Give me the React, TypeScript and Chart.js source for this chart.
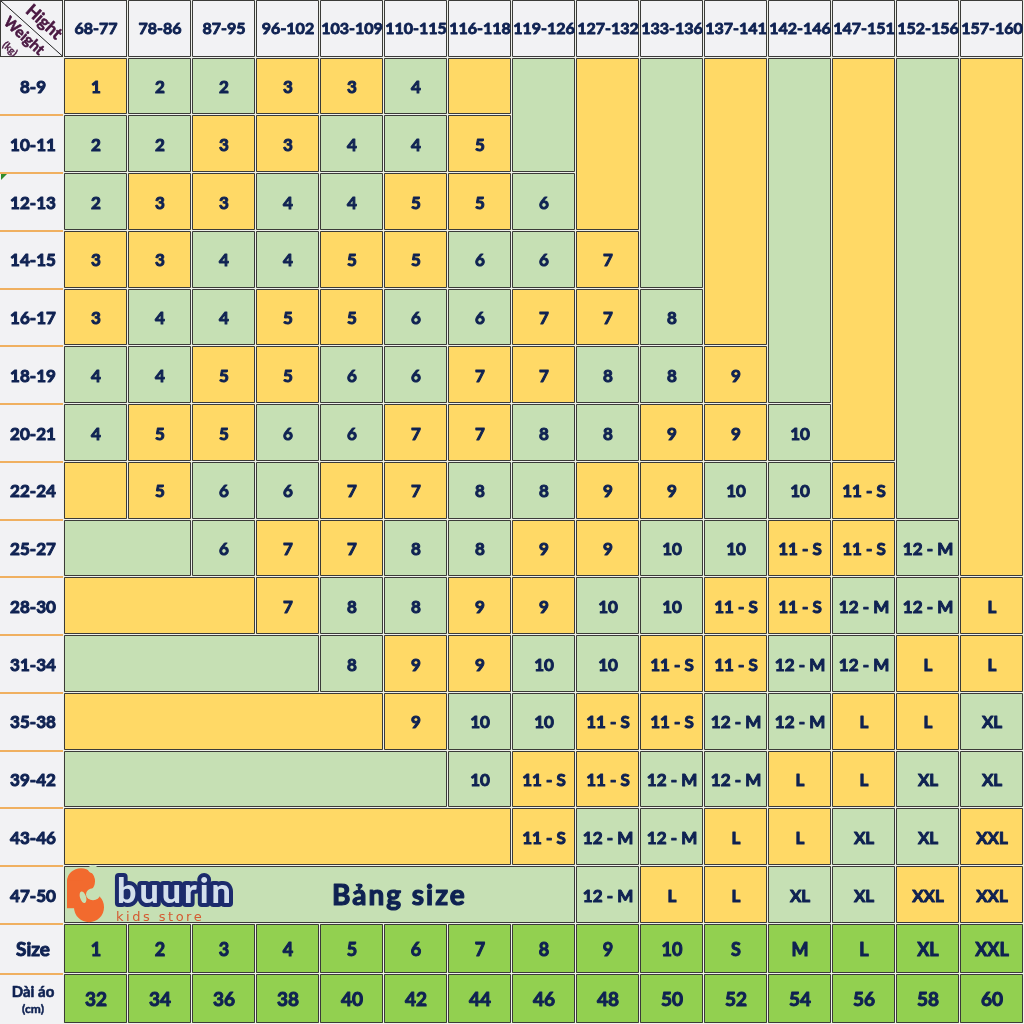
import { useEffect, useRef } from 'react';
import { Chart, registerables } from 'chart.js';

Chart.register(...registerables);

// ---------- data ----------
const heightRanges = ['68-77', '78-86', '87-95', '96-102', '103-109', '110-115', '116-118', '119-126', '127-132', '133-136', '137-141', '142-146', '147-151', '152-156', '157-160'];
const weightRanges = ['8-9', '10-11', '12-13', '14-15', '16-17', '18-19', '20-21', '22-24', '25-27', '28-30', '31-34', '35-38', '39-42', '43-46', '47-50'];
const sizeCodes = ['1', '2', '3', '4', '5', '6', '7', '8', '9', '10', 'S', 'M', 'L', 'XL', 'XXL'];
const shirtLengths = ['32', '34', '36', '38', '40', '42', '44', '46', '48', '50', '52', '54', '56', '58', '60'];
const fitLevels = ['1', '2', '3', '4', '5', '6', '7', '8', '9', '10', '11 - S', '12 - M', 'L', 'XL', 'XXL'];

const fit_8_9 = ['1', '2', '2', '3', '3', '4', '', '', '', '', '', '', '', '', ''];
const fit_10_11 = ['2', '2', '3', '3', '4', '4', '5', '', '', '', '', '', '', '', ''];
const fit_12_13 = ['2', '3', '3', '4', '4', '5', '5', '6', '', '', '', '', '', '', ''];
const fit_14_15 = ['3', '3', '4', '4', '5', '5', '6', '6', '7', '', '', '', '', '', ''];
const fit_16_17 = ['3', '4', '4', '5', '5', '6', '6', '7', '7', '8', '', '', '', '', ''];
const fit_18_19 = ['4', '4', '5', '5', '6', '6', '7', '7', '8', '8', '9', '', '', '', ''];
const fit_20_21 = ['4', '5', '5', '6', '6', '7', '7', '8', '8', '9', '9', '10', '', '', ''];
const fit_22_24 = ['', '5', '6', '6', '7', '7', '8', '8', '9', '9', '10', '10', '11 - S', '', ''];
const fit_25_27 = ['', '', '6', '7', '7', '8', '8', '9', '9', '10', '10', '11 - S', '11 - S', '12 - M', ''];
const fit_28_30 = ['', '', '', '7', '8', '8', '9', '9', '10', '10', '11 - S', '11 - S', '12 - M', '12 - M', 'L'];
const fit_31_34 = ['', '', '', '', '8', '9', '9', '10', '10', '11 - S', '11 - S', '12 - M', '12 - M', 'L', 'L'];
const fit_35_38 = ['', '', '', '', '', '9', '10', '10', '11 - S', '11 - S', '12 - M', '12 - M', 'L', 'L', 'XL'];
const fit_39_42 = ['', '', '', '', '', '', '10', '11 - S', '11 - S', '12 - M', '12 - M', 'L', 'L', 'XL', 'XL'];
const fit_43_46 = ['', '', '', '', '', '', '', '11 - S', '12 - M', '12 - M', 'L', 'L', 'XL', 'XL', 'XXL'];
const fit_47_50 = ['', '', '', '', '', '', '', '', '12 - M', 'L', 'L', 'XL', 'XL', 'XXL', 'XXL'];

const fitRows = [fit_8_9, fit_10_11, fit_12_13, fit_14_15, fit_16_17, fit_18_19, fit_20_21, fit_22_24, fit_25_27, fit_28_30, fit_31_34, fit_35_38, fit_39_42, fit_43_46, fit_47_50];

// ---------- layout / style ----------
const FOOT_UNIT = 0.866;
const rowUnits = [1, ...weightRanges.map(() => 1), FOOT_UNIT, FOOT_UNIT];
const rowEdges: number[] = [0];
rowUnits.forEach((u, i) => rowEdges.push(rowEdges[i] + u));
const TOTAL_ROWS = rowEdges[rowEdges.length - 1];
const TOTAL_COLS = heightRanges.length + 1;

const YELLOW = '#ffd966';
const GREEN = '#c6e0b4';
const SIZE_GREEN = '#92d050';
const GRAY = '#f2f2f4';
const BORDER = '#3b3b38';
const GAP = '#eef0ea';
const ORANGE_LINE = '#f0b060';
const NAVY = '#0f2252';
const PURPLE = '#4a1842';
const FONT = 'Lato, "Open Sans", sans-serif';

const colorOf = (v: string) => (fitLevels.indexOf(v) % 2 === 0 ? YELLOW : GREEN);

function box(ctx: CanvasRenderingContext2D, x0: number, y0: number, x1: number, y1: number, fill: string) {
  const l = Math.round(x0), t = Math.round(y0), r = Math.round(x1), b = Math.round(y1);
  ctx.fillStyle = fill;
  ctx.fillRect(l, t, r - l - 1, b - t - 1);
  ctx.strokeStyle = BORDER;
  ctx.lineWidth = 1;
  ctx.strokeRect(l + 0.5, t + 0.5, r - l - 2, b - t - 2);
}

function text(ctx: CanvasRenderingContext2D, s: string, x: number, y: number, font: string, color: string, weight = 0.8) {
  ctx.font = font;
  ctx.fillStyle = color;
  ctx.strokeStyle = color;
  ctx.lineWidth = weight;
  ctx.lineJoin = 'round';
  ctx.textAlign = 'center';
  ctx.textBaseline = 'middle';
  ctx.fillText(s, x, y);
  if (weight > 0) ctx.strokeText(s, x, y);
}

function drawLogo(ctx: CanvasRenderingContext2D, x0: number, y0: number) {
  // orange mark
  ctx.save();
  ctx.fillStyle = '#f26a2e';
  ctx.beginPath();
  ctx.ellipse(x0 + 17, y0 + 15, 14, 13, 0, 0, Math.PI * 2);
  ctx.fill();
  ctx.beginPath();
  ctx.ellipse(x0 + 25, y0 + 41, 15, 15, 0, 0, Math.PI * 2);
  ctx.fill();
  ctx.fillRect(x0 + 3, y0 + 14, 16, 28);
  ctx.fillStyle = GREEN;
  ctx.beginPath();
  ctx.ellipse(x0 + 29, y0 + 28, 7, 6, 0, 0, Math.PI * 2);
  ctx.fill();
  ctx.beginPath();
  ctx.ellipse(x0 + 29, y0 + 3, 5, 4, 0, 0, Math.PI * 2);
  ctx.fill();
  ctx.beginPath();
  ctx.ellipse(x0 + 19, y0 + 31, 3, 6, -0.3, 0, Math.PI * 2);
  ctx.fill();
  ctx.restore();

  // wordmark
  ctx.save();
  ctx.font = `900 34px ${FONT}`;
  (ctx as any).letterSpacing = '3px';
  ctx.textAlign = 'left';
  ctx.textBaseline = 'alphabetic';
  ctx.lineJoin = 'round';
  ctx.lineWidth = 8;
  ctx.strokeStyle = '#1c2b6c';
  ctx.strokeText('buurin', x0 + 53, y0 + 37);
  ctx.fillStyle = '#d3dfec';
  ctx.fillText('buurin', x0 + 53, y0 + 37);
  ctx.font = `13px "DejaVu Sans", sans-serif`;
  (ctx as any).letterSpacing = '2.5px';
  ctx.fillStyle = '#d45a32';
  ctx.fillText('kids store', x0 + 52, y0 + 55);
  ctx.restore();
}

const tablePlugin = {
  id: 'sizeTable',
  beforeDatasetsDraw(chart: any) {
    const { ctx } = chart;
    const xs = chart.scales.x;
    const ys = chart.scales.y;
    const px = (c: number) => xs.getPixelForValue(c);
    const py = (r: number) => ys.getPixelForValue(rowEdges[r]);

    ctx.save();
    ctx.fillStyle = GAP;
    ctx.fillRect(0, 0, chart.width, chart.height);

    // corner cell
    box(ctx, px(0), py(0), px(1), py(1), GRAY);
    ctx.strokeStyle = '#222';
    ctx.lineWidth = 1;
    ctx.beginPath();
    ctx.moveTo(px(0) + 1, py(0) + 1);
    ctx.lineTo(px(1) - 2, py(1) - 2);
    ctx.stroke();
    const ang = Math.atan2(py(1) - py(0), px(1) - px(0));
    ctx.save();
    ctx.translate(px(0) + 44, py(0) + 22);
    ctx.rotate(ang);
    text(ctx, 'Hight', 0, 0, `bold 17px ${FONT}`, PURPLE, 0.6);
    ctx.restore();
    ctx.save();
    ctx.translate(px(0) + 24, py(0) + 36);
    ctx.rotate(ang);
    text(ctx, 'Weight', 0, 0, `bold 15px ${FONT}`, PURPLE, 0.6);
    ctx.restore();
    ctx.save();
    ctx.translate(px(0) + 10, py(0) + 49);
    ctx.rotate(ang);
    text(ctx, '(kg)', 0, 0, `bold 10px ${FONT}`, PURPLE, 0.3);
    ctx.restore();

    // header row
    heightRanges.forEach((h, i) => {
      box(ctx, px(i + 1), py(0), px(i + 2), py(1), GRAY);
      text(ctx, h, (px(i + 1) + px(i + 2)) / 2, (py(0) + py(1)) / 2, `bold 16px ${FONT}`, NAVY, 0.9);
    });

    // left label column
    const labels = [...weightRanges, 'Size', ''];
    labels.forEach((w, i) => {
      const t = py(i + 1), b = py(i + 2);
      ctx.fillStyle = GRAY;
      ctx.fillRect(0, Math.round(t), Math.round(px(1)) - 1, Math.round(b - t));
      if (i > 0) {
        ctx.fillStyle = ORANGE_LINE;
        ctx.fillRect(0, Math.round(t) - 1, Math.round(px(1)) - 1, 2);
      }
      const cx = (px(0) + px(1)) / 2 + 1;
      if (w) text(ctx, w, cx, (t + b) / 2 + 1, `bold ${w === 'Size' ? 19 : 17}px ${FONT}`, NAVY, 1);
      else {
        text(ctx, 'Dài áo', cx, (t + b) / 2 - 7, `bold 15px ${FONT}`, NAVY, 0.6);
        text(ctx, '(cm)', cx, (t + b) / 2 + 10, `bold 12px ${FONT}`, NAVY, 0.5);
      }
    });
    // comment marker
    ctx.fillStyle = '#2e8b2e';
    ctx.beginPath();
    const mt = Math.round(py(3)) + 1;
    ctx.moveTo(1, mt);
    ctx.lineTo(7, mt);
    ctx.lineTo(1, mt + 6);
    ctx.closePath();
    ctx.fill();

    // fit grid
    const topEmpty = heightRanges.map((_, c) => {
      let n = 0;
      while (n < fitRows.length && fitRows[n][c] === '') n++;
      return n;
    });
    const leftEmpty = fitRows.map((row) => {
      let n = 0;
      while (n < row.length && row[n] === '') n++;
      return n;
    });
    fitRows.forEach((row, r) => {
      row.forEach((v, c) => {
        if (v !== '') {
          box(ctx, px(c + 1), py(r + 1), px(c + 2), py(r + 2), colorOf(v));
          text(ctx, v, (px(c + 1) + px(c + 2)) / 2, (py(r + 1) + py(r + 2)) / 2 + 1, `bold 17px ${FONT}`, NAVY, 1);
        } else if (r < topEmpty[c]) {
          if (r === 0) box(ctx, px(c + 1), py(1), px(c + 2), py(1 + topEmpty[c]), colorOf(fitRows[topEmpty[c]][c]));
        } else if (c === 0) {
          box(ctx, px(1), py(r + 1), px(1 + leftEmpty[r]), py(r + 2), colorOf(row[leftEmpty[r]]));
        }
      });
    });

    // logo + title in the last merged cell
    const lr = fitRows.length - 1;
    const lx0 = px(1), lx1 = px(1 + leftEmpty[lr]);
    const ly0 = py(lr + 1), ly1 = py(lr + 2);
    drawLogo(ctx, lx0, ly0);
    ctx.save();
    (ctx as any).letterSpacing = '2px';
    text(ctx, 'Bảng size', lx0 + (lx1 - lx0) * 0.655, (ly0 + ly1) / 2 + 1, `bold 28px ${FONT}`, NAVY, 1.2);
    ctx.restore();

    // size row and length row
    const sr = fitRows.length + 1;
    sizeCodes.forEach((s, i) => {
      box(ctx, px(i + 1), py(sr), px(i + 2), py(sr + 1), SIZE_GREEN);
      text(ctx, s, (px(i + 1) + px(i + 2)) / 2, (py(sr) + py(sr + 1)) / 2 + 1, `bold 18px ${FONT}`, NAVY, 1);
    });
    shirtLengths.forEach((s, i) => {
      box(ctx, px(i + 1), py(sr + 1), px(i + 2), py(sr + 2), SIZE_GREEN);
      text(ctx, s, (px(i + 1) + px(i + 2)) / 2, (py(sr + 1) + py(sr + 2)) / 2 + 1, `bold 19px ${FONT}`, NAVY, 1);
    });
    ctx.restore();
  },
};

export default function App() {
  const ref = useRef<HTMLCanvasElement>(null);
  useEffect(() => {
    document.body.style.margin = '0';
    if (!ref.current) return;
    const chart = new Chart(ref.current, {
      type: 'scatter',
      data: { datasets: [{ data: [], pointRadius: 0 }] },
      options: {
        responsive: false,
        animation: false,
        events: [],
        layout: { padding: 0 },
        plugins: { legend: { display: false }, tooltip: { enabled: false } },
        scales: {
          x: { type: 'linear', min: 0, max: TOTAL_COLS, display: false },
          y: { type: 'linear', min: 0, max: TOTAL_ROWS, reverse: true, display: false },
        },
      },
      plugins: [tablePlugin],
    });
    return () => chart.destroy();
  }, []);
  return <canvas ref={ref} width={1024} height={1024} style={{ display: 'block' }} />;
}
